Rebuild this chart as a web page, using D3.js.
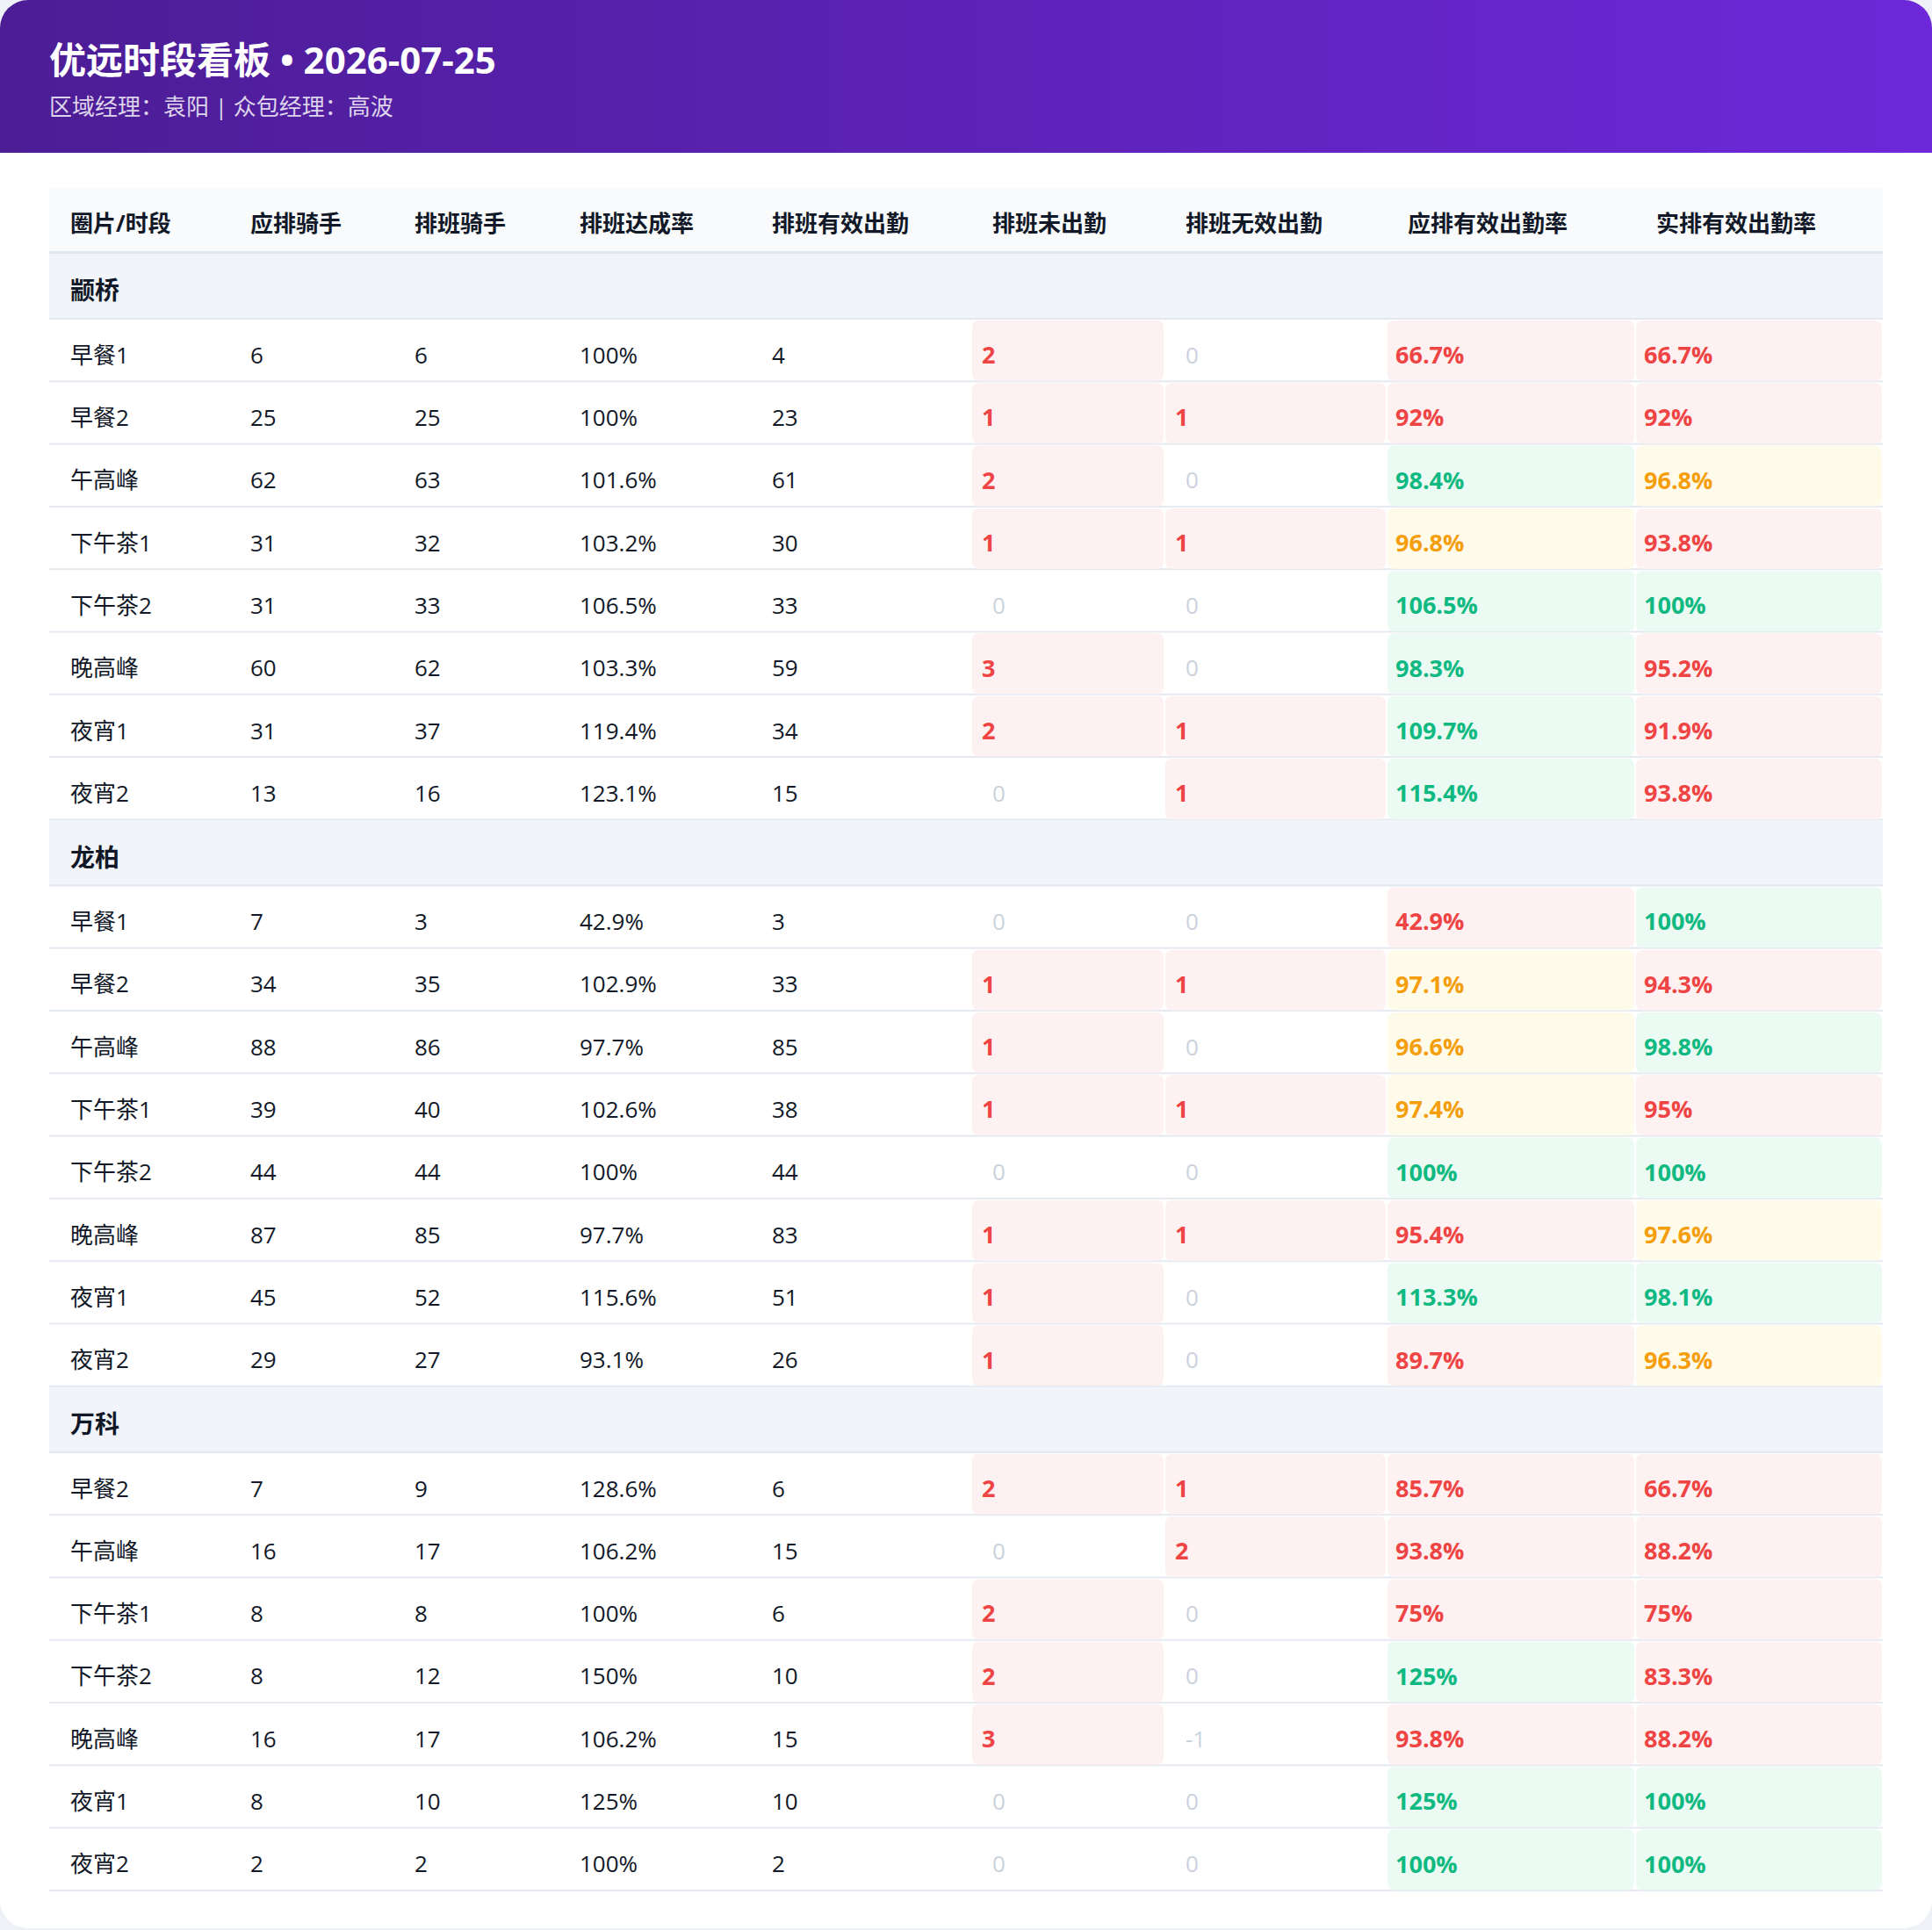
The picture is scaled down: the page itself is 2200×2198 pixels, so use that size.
<!DOCTYPE html>
<html>
<head>
<meta charset="utf-8">
<script src="https://cdn.jsdelivr.net/npm/d3@7"></script>
<style>
  body { margin: 0; background: #eef1f6; }
  svg { display: block; font-family: "Open Sans", "Noto Sans CJK SC", sans-serif; }
</style>
</head>
<body>
<div id="chart"></div>
<script>
const WIDTH = 2200;
const HEIGHT = 2198;

// header text
const titleText = "优远时段看板 • 2026-07-25";
const subtitleText = "区域经理：袁阳 | 众包经理：高波";

// column headers
const columns = ["圈片/时段", "应排骑手", "排班骑手", "排班达成率", "排班有效出勤", "排班未出勤", "排班无效出勤", "应排有效出勤率", "实排有效出勤率"];

// zones and their time slots
const zones = ["颛桥", "龙柏", "万科"];
const slots = [
    ["早餐1", "早餐2", "午高峰", "下午茶1", "下午茶2", "晚高峰", "夜宵1", "夜宵2"],
    ["早餐1", "早餐2", "午高峰", "下午茶1", "下午茶2", "晚高峰", "夜宵1", "夜宵2"],
    ["早餐2", "午高峰", "下午茶1", "下午茶2", "晚高峰", "夜宵1", "夜宵2"]
];

// series values, one array per zone
const planned = [[6, 25, 62, 31, 31, 60, 31, 13], [7, 34, 88, 39, 44, 87, 45, 29], [7, 16, 8, 8, 16, 8, 2]];
const scheduled = [[6, 25, 63, 32, 33, 62, 37, 16], [3, 35, 86, 40, 44, 85, 52, 27], [9, 17, 8, 12, 17, 10, 2]];
const scheduleRate = [[100, 100, 101.6, 103.2, 106.5, 103.3, 119.4, 123.1], [42.9, 102.9, 97.7, 102.6, 100, 97.7, 115.6, 93.1], [128.6, 106.2, 100, 150, 106.2, 125, 100]];
const effective = [[4, 23, 61, 30, 33, 59, 34, 15], [3, 33, 85, 38, 44, 83, 51, 26], [6, 15, 6, 10, 15, 10, 2]];
const absent = [[2, 1, 2, 1, 0, 3, 2, 0], [0, 1, 1, 1, 0, 1, 1, 1], [2, 0, 2, 2, 3, 0, 0]];
const invalid = [[0, 1, 0, 1, 0, 0, 1, 1], [0, 1, 0, 1, 0, 1, 0, 0], [1, 2, 0, 0, -1, 0, 0]];
const plannedEffRate = [[66.7, 92, 98.4, 96.8, 106.5, 98.3, 109.7, 115.4], [42.9, 97.1, 96.6, 97.4, 100, 95.4, 113.3, 89.7], [85.7, 93.8, 75, 125, 93.8, 125, 100]];
const actualEffRate = [[66.7, 92, 96.8, 93.8, 100, 95.2, 91.9, 93.8], [100, 94.3, 98.8, 95, 100, 97.6, 98.1, 96.3], [66.7, 88.2, 75, 83.3, 88.2, 100, 100]];

// layout
const tableLeft = 56, tableRight = 2144;
const colWeights = [205, 187, 188, 219, 251, 220, 253, 283, 282];
const headerTop = 214, headerH = 75, groupH = 75, rowH = 71.3;

const pct = v => `${v}%`;

const svg = d3.select("#chart").append("svg")
    .attr("width", WIDTH).attr("height", HEIGHT);

const defs = svg.append("defs");
const grad = defs.append("linearGradient").attr("id", "hdr")
    .attr("x1", "0%").attr("x2", "100%").attr("y1", "0%").attr("y2", "0%");
grad.append("stop").attr("offset", "0%").attr("stop-color", "#4c1d95");
grad.append("stop").attr("offset", "100%").attr("stop-color", "#6d28d9");
defs.append("clipPath").attr("id", "card")
    .append("rect").attr("width", WIDTH).attr("height", 2196).attr("rx", 32);

const card = svg.append("g").attr("clip-path", "url(#card)");
card.append("rect").attr("width", WIDTH).attr("height", 2196).attr("fill", "#ffffff");
card.append("rect").attr("width", WIDTH).attr("height", 174).attr("fill", "url(#hdr)");

card.append("text").attr("x", 56).attr("y", 84)
    .attr("font-size", 42).attr("font-weight", 700).attr("fill", "#ffffff")
    .text(titleText);
card.append("text").attr("x", 56).attr("y", 131)
    .attr("font-size", 26).attr("fill", "rgba(255,255,255,0.82)")
    .text(subtitleText);

// column x positions from weights
const cum = d3.cumsum([0, ...colWeights]);
const x = d3.scaleLinear().domain([0, cum[cum.length - 1]]).range([tableLeft, tableRight]);
const colX = i => x(cum[i]);
const colW = i => x(cum[i + 1]) - x(cum[i]);

// table header
const table = card.append("g");
table.append("rect").attr("x", tableLeft).attr("y", headerTop)
    .attr("width", tableRight - tableLeft).attr("height", headerH).attr("fill", "#f8fafc");
table.append("rect").attr("x", tableLeft).attr("y", headerTop + headerH - 3)
    .attr("width", tableRight - tableLeft).attr("height", 3).attr("fill", "#e2e8f0");
table.selectAll("text.hd").data(columns).join("text")
    .attr("class", "hd")
    .attr("x", (d, i) => colX(i) + 24)
    .attr("y", headerTop + headerH / 2 + 3)
    .attr("dy", "0.35em")
    .attr("font-size", 26).attr("font-weight", 700).attr("fill", "#111827")
    .text(d => d);

// build rows
const rows = [];
zones.forEach((z, zi) => {
    rows.push({type: "group", label: z});
    slots[zi].forEach((s, si) => {
        rows.push({
            type: "data",
            cells: [
                {v: s},
                {v: planned[zi][si]},
                {v: scheduled[zi][si]},
                {v: pct(scheduleRate[zi][si])},
                {v: effective[zi][si]},
                {v: absent[zi][si], kind: "count"},
                {v: invalid[zi][si], kind: "count"},
                {v: plannedEffRate[zi][si], kind: "rate"},
                {v: actualEffRate[zi][si], kind: "rate"}
            ]
        });
    });
});
let yy = headerTop + headerH;
rows.forEach(r => { r.y = yy; r.h = r.type === "group" ? groupH : rowH; yy += r.h; });

const RED = {fg: "#ef4444", bg: "#fef1f2"};
const GREEN = {fg: "#10b981", bg: "#ebfbf3"};
const ORANGE = {fg: "#f59e0b", bg: "#fefbeb"};
function style(c) {
    if (c.kind === "count") return c.v > 0 ? RED : null;
    if (c.kind === "rate") return c.v >= 98 ? GREEN : (c.v >= 96 ? ORANGE : RED);
    return null;
}

const rowG = table.selectAll("g.row").data(rows).join("g")
    .attr("class", "row")
    .attr("transform", d => `translate(0,${d.y})`);

rowG.filter(d => d.type === "group").each(function (d) {
    const g = d3.select(this);
    g.append("rect").attr("x", tableLeft).attr("width", tableRight - tableLeft)
        .attr("height", d.h).attr("fill", "#f1f4f9");
    g.append("rect").attr("x", tableLeft).attr("y", d.h - 2).attr("width", tableRight - tableLeft)
        .attr("height", 2).attr("fill", "#e3e8ef");
    g.append("text").attr("x", tableLeft + 24).attr("y", d.h / 2 + 5).attr("dy", "0.35em")
        .attr("font-size", 28).attr("font-weight", 700).attr("fill", "#111827")
        .text(d.label);
});

rowG.filter(d => d.type === "data").each(function (d) {
    const g = d3.select(this);
    g.append("rect").attr("x", tableLeft).attr("y", d.h - 2).attr("width", tableRight - tableLeft)
        .attr("height", 2).attr("fill", "#e5e9f0");
    d.cells.forEach((c, i) => {
        const st = style(c);
        if (st) {
            g.append("rect").attr("x", colX(i) + 1).attr("y", 1)
                .attr("width", colW(i) - 2).attr("height", d.h - 2.5)
                .attr("rx", 7).attr("fill", st.bg);
        }
        let fill = "#111827", weight = 400, size = 26, label = c.v;
        if (c.kind === "count" && !st) fill = "#cbd2dc";
        if (st) { fill = st.fg; weight = 700; size = 27; }
        if (c.kind === "rate") label = pct(c.v);
        g.append("text")
            .attr("x", colX(i) + (st ? (c.kind === "rate" ? 10 : 12) : 24))
            .attr("y", d.h / 2 + 5).attr("dy", "0.35em")
            .attr("font-size", size).attr("font-weight", weight).attr("fill", fill)
            .text(label);
    });
});
</script>
</body>
</html>
